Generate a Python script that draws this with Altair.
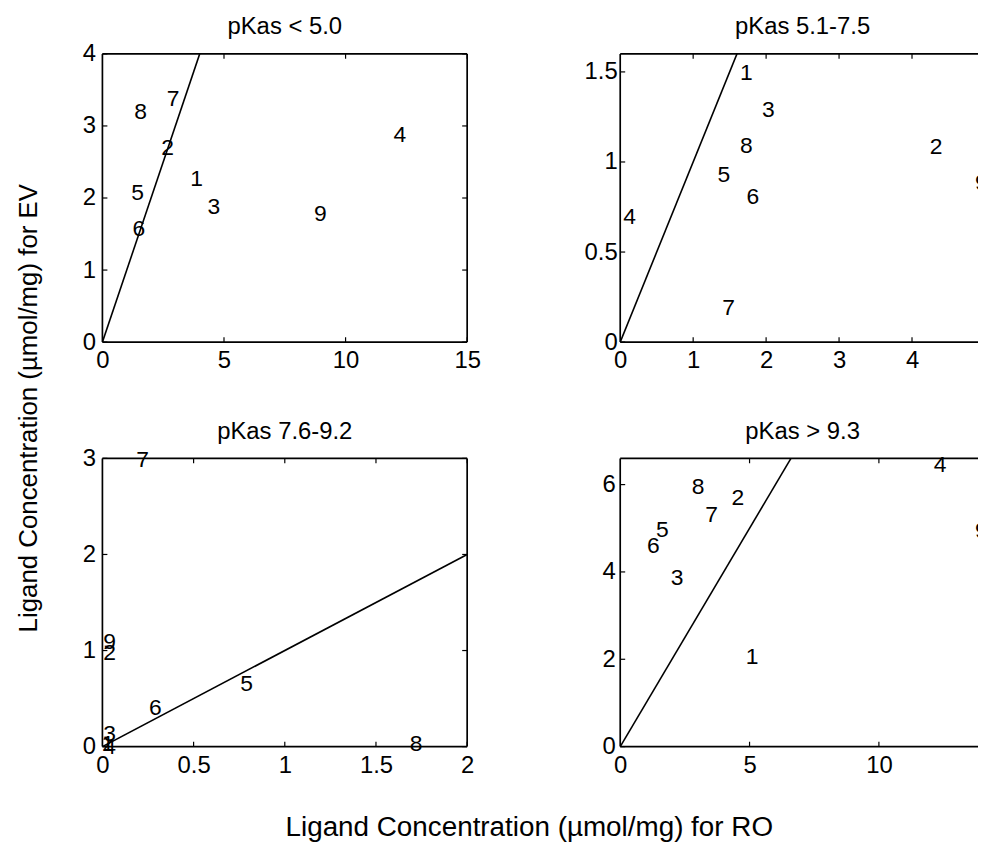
import altair as alt
import pandas as pd

FONT = "Liberation Sans"

labels = ["1", "2", "3", "4", "5", "6", "7", "8", "9"]
titles = ["pKas < 5.0", "pKas 5.1-7.5", "pKas 7.6-9.2", "pKas > 9.3"]

# Ligand concentration (umol/mg) for RO (x) and EV (y), ligands 1..9
p1_ro = [3.87, 2.68, 4.58, 12.23, 1.45, 1.50, 2.91, 1.57, 8.96]
p1_ev = [2.27, 2.69, 1.87, 2.87, 2.07, 1.57, 3.375, 3.19, 1.775]

p2_ro = [1.73, 4.33, 2.03, 0.13, 1.42, 1.82, 1.485, 1.73, 4.95]
p2_ev = [1.494, 1.083, 1.289, 0.692, 0.93, 0.806, 0.187, 1.087, 0.885]

p3_ro = [0.03, 0.04, 0.04, 0.04, 0.79, 0.29, 0.22, 1.72, 0.04]
p3_ev = [0.03, 0.97, 0.13, 0.0, 0.65, 0.405, 2.98, 0.03, 1.09]

p4_ro = [5.10, 4.55, 2.20, 12.37, 1.63, 1.28, 3.53, 3.01, 13.96]
p4_ev = [2.06, 5.69, 3.87, 6.44, 4.97, 4.59, 5.31, 5.95, 4.93]

ro = [p1_ro, p2_ro, p3_ro, p4_ro]
ev = [p1_ev, p2_ev, p3_ev, p4_ev]

x_max = [15, 5, 2, 14.1]
y_max = [4, 1.6, 3, 6.6]
x_ticks = [[0, 5, 10, 15], [0, 1, 2, 3, 4], [0, 0.5, 1, 1.5, 2], [0, 5, 10]]
y_ticks = [[0, 1, 2, 3, 4], [0, 0.5, 1, 1.5], [0, 1, 2, 3], [0, 2, 4, 6]]
diag = [[0, 4], [0, 1.6], [0, 2], [0, 6.6]]
ylab_pad = [7, 3, 7, 5]

W, H = 367, 290
TICK = 5
one = pd.DataFrame({"k": [0]})


def panel(i, xtitle=None, ytitle=None):
    xs = alt.Scale(domain=[0, x_max[i]], nice=False, zero=False)
    ys = alt.Scale(domain=[0, y_max[i]], nice=False, zero=False)
    xkw = dict(values=x_ticks[i], format="~f", domain=False, ticks=False, grid=False,
               labelFont=FONT, labelFontSize=24, labelColor="black", labelPadding=7,
               labelFlush=False, labelOverlap=False)
    if xtitle:
        xkw.update(title=xtitle, titleFont=FONT, titleFontSize=28, titleFontWeight="normal",
                   titleColor="black", titleX=429, titleY=89, titleBaseline="alphabetic",
                   titleAlign="center")
    else:
        xkw.update(title=None)
    ykw = dict(values=y_ticks[i], format="~f", domain=False, ticks=False, grid=False,
               labelFont=FONT, labelFontSize=24, labelColor="black", labelPadding=ylab_pad[i],
               labelFlush=False, labelOverlap=False)
    if ytitle:
        ykw.update(title=ytitle, titleFont=FONT, titleFontSize=26, titleFontWeight="normal",
                   titleColor="black", titleX=-66, titleY=356, titleBaseline="alphabetic",
                   titleAlign="center", titleAngle=270)
    else:
        ykw.update(title=None)
    xax = alt.Axis(**xkw)
    yax = alt.Axis(**ykw)
    X = alt.X("ro:Q", scale=xs, axis=xax)
    Y = alt.Y("ev:Q", scale=ys, axis=yax)

    df = pd.DataFrame({"ro": ro[i], "ev": ev[i], "lab": labels})
    dl = pd.DataFrame({"ro": diag[i], "ev": diag[i]})
    dx = pd.DataFrame({"ro": x_ticks[i]})
    dy = pd.DataFrame({"ev": y_ticks[i]})

    rule = dict(color="black", strokeWidth=1.2)
    frame = dict(color="black", strokeWidth=1.7)
    layers = [
        alt.Chart(dl).mark_line(color="black", strokeWidth=1.6, clip=True).encode(x=X, y=Y),
        alt.Chart(dx).mark_rule(clip=True, **rule).encode(x=X, y=alt.value(H), y2=alt.value(H - TICK)),
        alt.Chart(dx).mark_rule(clip=True, **rule).encode(x=X, y=alt.value(0), y2=alt.value(TICK)),
        alt.Chart(dy).mark_rule(**rule).encode(y=Y, x=alt.value(0), x2=alt.value(TICK)),
        alt.Chart(dy).mark_rule(**rule).encode(y=Y, x=alt.value(W), x2=alt.value(W - TICK)),
        # frame of the axes box
        alt.Chart(one).mark_rule(**frame).encode(x=alt.value(0), y=alt.value(0), y2=alt.value(H)),
        alt.Chart(one).mark_rule(**frame).encode(x=alt.value(W), y=alt.value(0), y2=alt.value(H)),
        alt.Chart(one).mark_rule(**frame).encode(y=alt.value(0), x=alt.value(0), x2=alt.value(W)),
        alt.Chart(one).mark_rule(**frame).encode(y=alt.value(H), x=alt.value(0), x2=alt.value(W)),
        alt.Chart(df).mark_text(font=FONT, fontSize=23, align="center", baseline="middle",
                                color="black").encode(x=X, y=Y, text="lab:N"),
        alt.Chart(one).mark_text(font=FONT, fontSize=24, align="center", baseline="alphabetic",
                                 color="black").encode(
            x=alt.value(W / 2), y=alt.value(-20), text=alt.value(titles[i])),
    ]
    return alt.layer(*layers).properties(width=W, height=H)


c1 = panel(0, ytitle="Ligand Concentration (µmol/mg) for EV")
c2 = panel(1)
c3 = panel(2, xtitle="Ligand Concentration (µmol/mg) for RO")
c4 = panel(3)

# the original picture is cropped at its right edge, through the right-hand panels
chart = alt.concat(c1, c2, c3, c4, columns=2, spacing={"row": 117, "column": 154},
                   bounds="flush").properties(
    padding={"left": 7, "top": 4.6, "right": -10, "bottom": 0},
    background="white",
).configure_view(stroke=None)

chart.save("out.html", embed_options={"renderer": "svg", "actions": False})
